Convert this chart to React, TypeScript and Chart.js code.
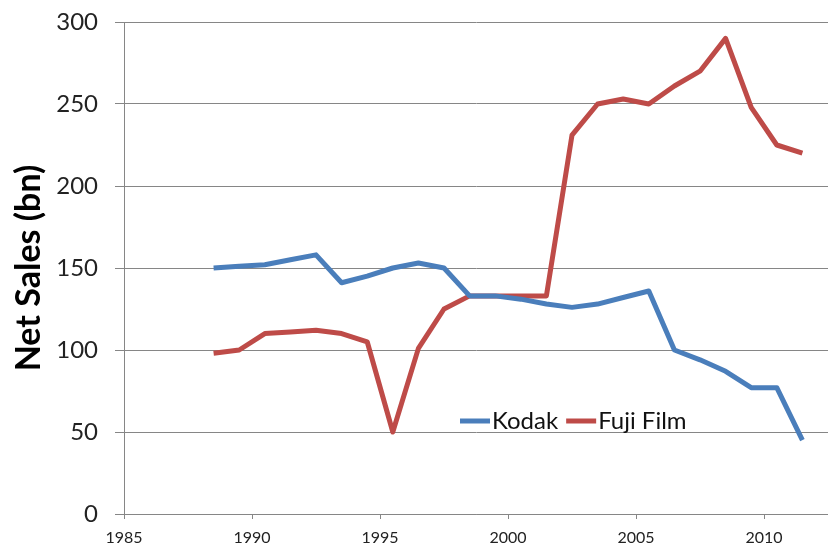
import React, { useEffect, useRef } from "react";
import { Chart, registerables } from "chart.js";

Chart.register(...registerables);

const years = [
  1988.5, 1989.5, 1990.5, 1991.5, 1992.5, 1993.5, 1994.5, 1995.5, 1996.5, 1997.5,
  1998.5, 1999.5, 2000.5, 2001.5, 2002.5, 2003.5, 2004.5, 2005.5, 2006.5, 2007.5,
  2008.5, 2009.5, 2010.5, 2011.5,
];
const kodak = [150, 151, 152, 155, 158, 141, 145, 150, 153, 150, 133, 133, 131, 128, 126, 128, 132, 136, 100, 94, 87, 77, 77, 45];
const fuji = [98, 100, 110, 111, 112, 110, 105, 50, 101, 125, 133, 133, 133, 133, 231, 250, 253, 250, 261, 270, 290, 248, 225, 220];
const xTicks = [1985, 1990, 1995, 2000, 2005, 2010];
const seriesNames = ["Kodak", "Fuji Film"];
const seriesColors = ["#4A7EBB", "#BE4B48"];
const yTitle = "Net Sales (bn)";

const FONT = "Lato, 'Open Sans', sans-serif";
const GRID = "#868686";

const legendPlugin = {
  id: "inlineLegend",
  afterDraw(chart: any) {
    const ctx = chart.ctx;
    ctx.save();
    ctx.font = `24px ${FONT}`;
    ctx.textBaseline = "middle";
    ctx.textAlign = "left";
    let x = 460;
    const y = 421;
    chart.data.datasets.forEach((ds: any) => {
      ctx.strokeStyle = ds.borderColor;
      ctx.lineWidth = 5;
      ctx.beginPath();
      ctx.moveTo(x, y);
      ctx.lineTo(x + 30, y);
      ctx.stroke();
      ctx.fillStyle = "#111";
      ctx.fillText(ds.label, x + 32, y);
      x += 32 + ctx.measureText(ds.label).width + 8;
    });
    ctx.restore();
  },
};

export default function App() {
  const ref = useRef<HTMLCanvasElement | null>(null);
  useEffect(() => {
    if (!ref.current) return;
    const mk = (vals: number[]) => years.map((x, i) => ({ x, y: vals[i] }));
    const chart = new Chart(ref.current, {
      type: "scatter",
      data: {
        datasets: [kodak, fuji].map((vals, i) => ({
          label: seriesNames[i],
          data: mk(vals),
          showLine: true,
          borderColor: seriesColors[i],
          backgroundColor: seriesColors[i],
          borderWidth: 5,
          pointRadius: 0,
          borderJoinStyle: "round",
          borderCapStyle: "butt",
        })),
      },
      options: {
        animation: false,
        responsive: false,
        layout: { padding: { top: 22, left: 0, right: 0, bottom: 0 } },
        plugins: { legend: { display: false }, tooltip: { enabled: false } },
        scales: {
          x: {
            type: "linear",
            min: 1985,
            max: 2012.5,
            afterBuildTicks: (s: any) => {
              s.ticks = xTicks.map((v) => ({ value: v }));
            },
            afterFit: (s: any) => {
              s.height = 34;
            },
            grid: { drawOnChartArea: false, drawTicks: true, tickLength: 5, color: GRID },
            border: { color: GRID, width: 1 },
            ticks: {
              font: { family: FONT, size: 16 },
              color: "#222",
              padding: 9,
              maxRotation: 0,
              callback: (v: any) => String(v),
            },
          },
          y: {
            min: 0,
            max: 300,
            afterFit: (s: any) => {
              s.width = 124;
              s.paddingTop = 0;
              s.paddingBottom = 0;
            },
            grid: { color: GRID, tickLength: 9 },
            border: { color: GRID, width: 1 },
            ticks: {
              stepSize: 50,
              font: { family: FONT, size: 24 },
              color: "#222",
              padding: 17,
            },
            title: {
              display: true,
              text: yTitle,
              font: { family: FONT, size: 34, weight: "bold" },
              color: "#000",
              padding: { top: 9, bottom: 0 },
            },
          },
        },
      },
      plugins: [legendPlugin],
    });
    return () => chart.destroy();
  }, []);
  return (
    <div style={{ position: "absolute", left: 0, top: 0, width: 828, height: 548, background: "#fff" }}>
      <canvas ref={ref} width={828} height={548} />
    </div>
  );
}
